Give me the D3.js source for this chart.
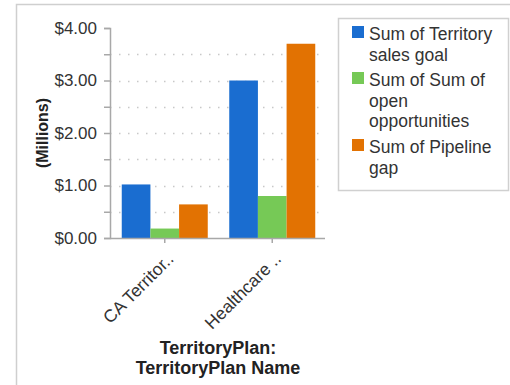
<!DOCTYPE html>
<html>
<head>
<meta charset="utf-8">
<script src="https://cdn.jsdelivr.net/npm/d3@7"></script>
<style>
  html, body { margin: 0; padding: 0; background: #fff; }
  svg { display: block; font-family: "Liberation Sans", Arial, sans-serif; }
</style>
</head>
<body>
<svg id="chart" width="510" height="385"></svg>
<script>
// Territory plans and their summed amounts (millions of dollars)
const categories = ["CA Territor..", "Healthcare .."];
const seriesNames = ["Sum of Territory sales goal", "Sum of Sum of open opportunities", "Sum of Pipeline gap"];
const salesGoal = [1.02, 3.0];
const openOpportunities = [0.18, 0.8];
const pipelineGap = [0.64, 3.7];
const yTicks = [0, 0.5, 1, 1.5, 2, 2.5, 3, 3.5, 4];
const legendLines = [
  ["Sum of Territory", "sales goal"],
  ["Sum of Sum of", "open", "opportunities"],
  ["Sum of Pipeline", "gap"]
];
const colors = ["#1a6dd0", "#76c956", "#e27202"];

const series = [salesGoal, openOpportunities, pipelineGap];
const svg = d3.select("#chart");

// outer panel frame (top and left edges)
svg.append("path")
  .attr("d", "M16.5,385 V4.5 H510")
  .attr("fill", "none").attr("stroke", "#cfcfcf").attr("stroke-width", 1.5);

const plot = { left: 110, right: 325, top: 28, bottom: 238 };

const y = d3.scaleLinear().domain([0, 4]).range([plot.bottom, plot.top]);
const x0 = d3.scaleBand().domain(categories)
  .range([plot.left + 1, plot.right + 1]).paddingInner(0.2).paddingOuter(0.1);
const x1 = d3.scaleBand().domain(d3.range(series.length)).range([0, x0.bandwidth()]);

// dotted gridlines at the half-million steps
svg.append("g").selectAll("line")
  .data(yTicks.filter(v => v > 0 && v < 4))
  .join("line")
  .attr("x1", plot.left).attr("x2", plot.right)
  .attr("y1", d => Math.round(y(d)) + 0.5).attr("y2", d => Math.round(y(d)) + 0.5)
  .attr("stroke", "#c8c8c8").attr("stroke-width", 1.5)
  .attr("stroke-dasharray", "1.5,7.5");

// bars
const groups = svg.append("g").selectAll("g")
  .data(categories)
  .join("g")
  .attr("transform", d => `translate(${x0(d)},0)`);
groups.selectAll("rect")
  .data((d, i) => series.map((s, k) => ({ k, v: s[i] })))
  .join("rect")
  .attr("x", d => x1(d.k))
  .attr("width", x1.bandwidth())
  .attr("y", d => y(d.v))
  .attr("height", d => y(0) - y(d.v))
  .attr("fill", d => colors[d.k]);

// y axis
const yAxis = svg.append("g")
  .attr("transform", `translate(${plot.left},0)`)
  .call(d3.axisLeft(y).tickValues(yTicks).tickSize(6).tickPadding(7)
    .tickFormat(v => Number.isInteger(v) ? d3.format("$.2f")(v) : ""));
yAxis.select(".domain").attr("stroke", "#a8a8a8").attr("stroke-width", 1.5);
yAxis.selectAll(".tick line").attr("stroke", "#a8a8a8").attr("stroke-width", 1.5);
yAxis.selectAll("text")
  .attr("font-size", 17).attr("fill", "#333")
  .style("font-family", "'Liberation Sans', Arial, sans-serif");

// x axis
const xAxis = svg.append("g")
  .attr("transform", `translate(0,${plot.bottom})`)
  .call(d3.axisBottom(x0).tickSize(5).tickFormat(""));
xAxis.select(".domain")
  .attr("d", `M${plot.left},0.5H${plot.right}`)
  .attr("stroke", "#a8a8a8").attr("stroke-width", 1.5);
xAxis.selectAll(".tick line").attr("stroke", "#a8a8a8").attr("stroke-width", 1.5);

// rotated category labels
svg.append("g").selectAll("text")
  .data(categories)
  .join("text")
  .attr("transform", d => `translate(${x0(d) + x0.bandwidth() / 2 + 10},${plot.bottom + 22}) rotate(-45)`)
  .attr("text-anchor", "end")
  .attr("font-size", 17.5).attr("fill", "#333")
  .text(d => d);

// axis titles
svg.append("text")
  .attr("transform", `translate(48,${(plot.top + plot.bottom) / 2}) rotate(-90)`)
  .attr("text-anchor", "middle")
  .attr("font-size", 16).attr("font-weight", "bold").attr("fill", "#222")
  .text("(Millions)");

const xTitle = svg.append("text")
  .attr("text-anchor", "middle")
  .attr("font-size", 18).attr("font-weight", "bold").attr("fill", "#222");
["TerritoryPlan:", "TerritoryPlan Name"].forEach((t, i) => {
  xTitle.append("tspan")
    .attr("x", (plot.left + plot.right) / 2 + 0.5)
    .attr("y", 354 + i * 20)
    .text(t);
});

// legend
const legend = svg.append("g");
legend.append("rect")
  .attr("x", 338.5).attr("y", 18.5).attr("width", 170).attr("height", 172)
  .attr("fill", "#fff").attr("stroke", "#d0d0d0").attr("stroke-width", 1.5);

const entryTop = [26, 72, 139];
legendLines.forEach((lines, k) => {
  legend.append("rect")
    .attr("x", 352).attr("y", entryTop[k])
    .attr("width", 12).attr("height", 12)
    .attr("fill", colors[k]);
  const t = legend.append("text")
    .attr("font-size", 17.5).attr("fill", "#333");
  lines.forEach((line, j) => {
    t.append("tspan")
      .attr("x", 369)
      .attr("y", entryTop[k] + 14 + j * 20.5)
      .text(line);
  });
});
</script>
</body>
</html>
